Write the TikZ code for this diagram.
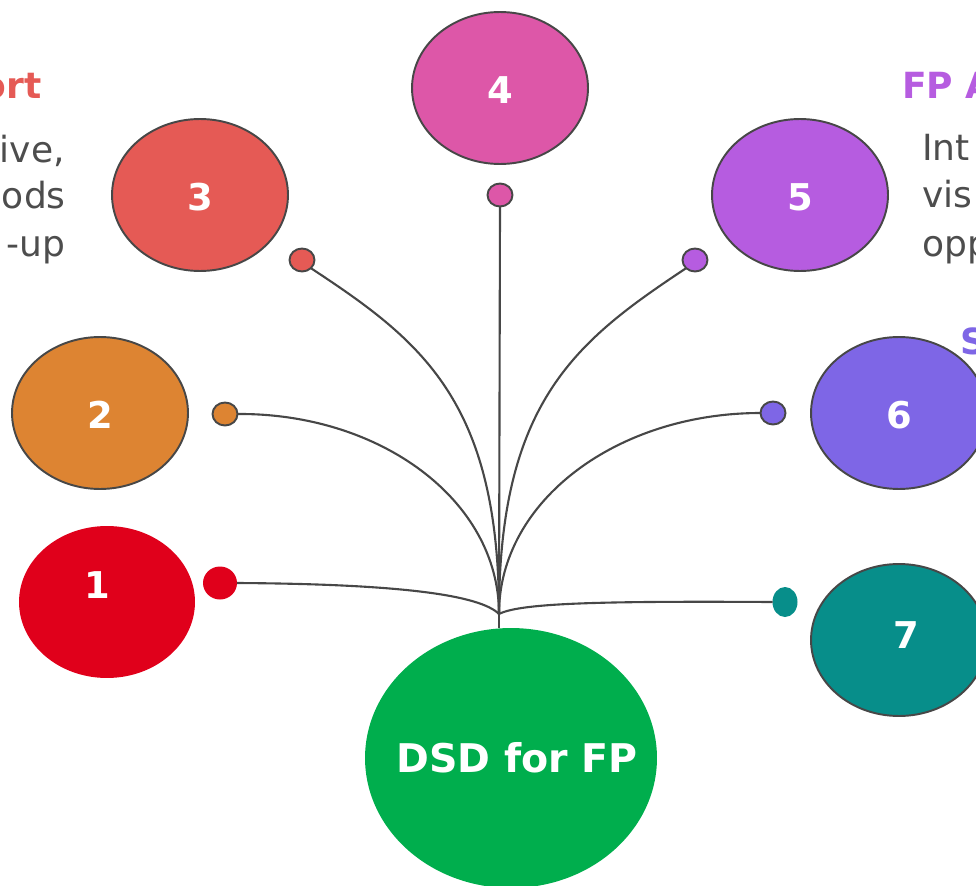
\documentclass[tikz,border=0pt]{standalone}
\usepackage{fontspec}
\setmainfont{DejaVu Sans}
\usetikzlibrary{shapes.geometric}
\definecolor{ptred}{HTML}{E0001B}
\definecolor{ptorange}{HTML}{DD8432}
\definecolor{ptcoral}{HTML}{E55A55}
\definecolor{ptpink}{HTML}{DD57A8}
\definecolor{ptpurple}{HTML}{B65CE0}
\definecolor{ptviolet}{HTML}{7E66E6}
\definecolor{ptteal}{HTML}{078E8A}
\definecolor{ptgreen}{HTML}{00AE4D}
\definecolor{lineg}{HTML}{474747}
\definecolor{textg}{HTML}{4D4D4D}

\begin{document}
\begin{tikzpicture}[x=0.02cm, y=-0.02cm,
        bubble/.style={ellipse, minimum width=3.52cm, minimum height=3.04cm, inner sep=0pt, outer sep=0pt},
        knob/.style={ellipse, minimum width=0.5cm, minimum height=0.46cm, inner sep=0pt, outer sep=0pt},
        ring/.style={draw=lineg, line width=1.1pt},
        wire/.style={draw=lineg, line width=1.2pt},
        num/.style={text=white, inner sep=0pt, font=\fontsize{21}{25}\selectfont\bfseries},
        head/.style={inner sep=0pt, font=\fontsize{20.5}{25}\selectfont\bfseries},
        note/.style={text=textg, inner sep=0pt, font=\fontsize{20.5}{26}\selectfont}]
        \useasboundingbox (0,0) rectangle (976,885);
        \clip (0,0) rectangle (976,885);

        % Outer bubbles with their numbers
        \node[bubble, fill=ptred] (b1) at (107,602) {};
        \node[num] (n1) at (97,585) {1};
        \foreach \n/\x/\y/\c in {2/100/413/ptorange, 3/200/195/ptcoral, 4/500/88/ptpink, 5/800/195/ptpurple, 6/899/413/ptviolet} {
            \node[bubble, ring, fill=\c] (b\n) at (\x,\y) {};
            \node[num] (n\n) at (\x,\y+2) {\n};
        }
        \node[bubble, ring, fill=ptteal] (b7) at (899,640) {};
        \node[num] (n7) at (906,635) {7};

        % Central bubble
        \node[bubble, fill=ptgreen, minimum width=5.84cm, minimum height=5.2cm] (hub) at (511,758) {};
        \node[text=white, font=\fontsize{22.5}{27}\selectfont\bfseries] (hubtext) at (517,758) {DSD for FP};

        % Small knobs at the wire ends
        \node[knob, fill=ptred, minimum width=0.68cm, minimum height=0.66cm] (d1) at (220,583) {};
        \foreach \n/\x/\y/\c in {2/225/414/ptorange, 3/302/260/ptcoral, 4/500/195/ptpink, 5/695/260/ptpurple, 6/773/413/ptviolet}
            \node[knob, ring, fill=\c] (d\n) at (\x,\y) {};
        \node[knob, fill=ptteal, minimum height=0.6cm] (d7) at (785,602) {};

        % Wires meeting above the hub
        \coordinate (join) at (499,614);
        \draw[wire] (d1.east) .. controls (400,584) and (480,595) .. (join);
        \draw[wire] (d2.east) .. controls (380,413) and (499,500) .. (join);
        \draw[wire] (d3.south east) .. controls (420,340) and (499,400) .. (join);
        \draw[wire] (d4.south) -- (join);
        \draw[wire] (d5.south west) .. controls (578,340) and (499,400) .. (join);
        \draw[wire] (d6.west) .. controls (618,413) and (499,500) .. (join);
        \draw[wire] (d7.west) .. controls (600,601) and (520,603) .. (join);
        \draw[wire] (join) -- (join |- hub.north);

        % Side texts running off the page
        \node[head, text=ptcoral, anchor=base east] (t3) at (42,99) {ort};
        \node[note, anchor=base east] (t3a) at (65,163) {ive,};
        \node[note, anchor=base east] (t3b) at (66,209) {ods};
        \node[note, anchor=base east] (t3c) at (66,256) {-up};
        \node[head, text=ptpurple, anchor=base west] (t5) at (902,99) {FP A};
        \node[note, anchor=base west] (t5a) at (922,161) {Int};
        \node[note, anchor=base west] (t5b) at (922,208) {vis};
        \node[note, anchor=base west] (t5c) at (922,256) {opp};
        \node[head, text=ptviolet, anchor=base west] (t6) at (960,354) {S};
    \end{tikzpicture}
\end{document}
